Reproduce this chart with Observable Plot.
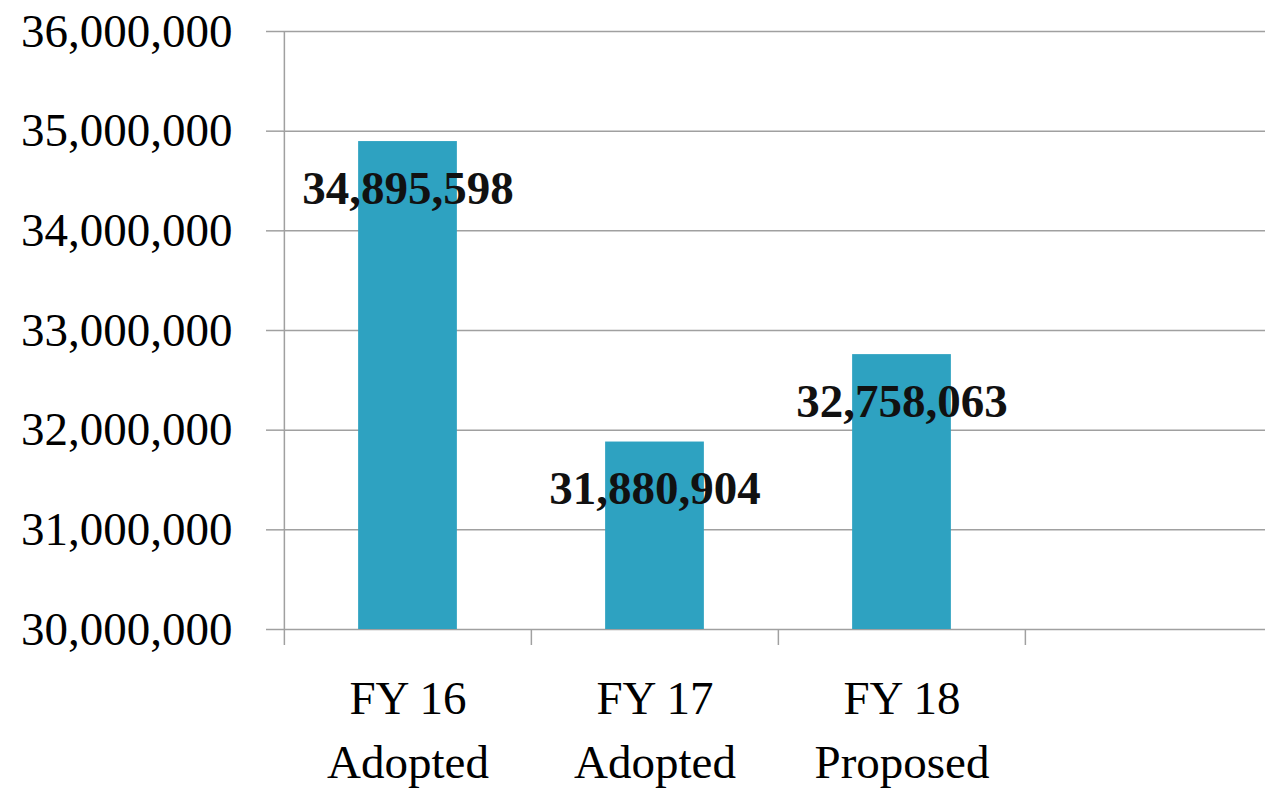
<!DOCTYPE html>
<html>
<head>
<meta charset="utf-8">
<script src="https://cdn.jsdelivr.net/npm/d3@7"></script>
<script src="https://cdn.jsdelivr.net/npm/@observablehq/plot@0.6"></script>
<style>
  html, body { margin: 0; padding: 0; background: #fff; overflow: hidden; }
  #chart svg { display: block; }
</style>
</head>
<body>
<div id="chart"></div>
<script>
const categories = ["FY 16\nAdopted", "FY 17\nAdopted", "FY 18\nProposed", " "];
const values = [34895598, 31880904, 32758063];
const yTicks = [30000000, 31000000, 32000000, 33000000, 34000000, 35000000, 36000000];

const data = values.map((v, i) => ({cat: categories[i], value: v}));

const W = 1265, H = 791;
const x0 = 283, x1 = 1272;
const step = (x1 - x0) / categories.length;
const barW = 99;
const inset = (step - barW) / 2;
const grid = "#a0a0a0";
const font = "'Liberation Serif', 'DejaVu Serif', serif";

const chart = Plot.plot({
  width: W,
  height: H,
  marginTop: 31,
  marginBottom: 162,
  marginLeft: x0,
  marginRight: 0,
  style: {fontFamily: font, fontSize: "47px", color: "#000", background: "#fff"},
  x: {domain: categories, range: [x0, x1], padding: 0},
  y: {domain: [30000000, 36000000]},
  marks: [
    Plot.gridY(yTicks, {stroke: grid, strokeOpacity: 1, strokeWidth: 1.5}),
    Plot.ruleX([categories[0]], {dx: -step / 2, stroke: grid, strokeWidth: 1.5}),
    Plot.axisY(yTicks, {
      tickSize: 17, tickPadding: 34, stroke: grid, strokeWidth: 1.5,
      tickFormat: d3.format(","), fontSize: 47, fill: "#000", label: null
    }),
    Plot.axisX({tickSize: 16, dx: -step / 2, text: null, stroke: grid, strokeWidth: 1.5, label: null}),
    Plot.axisX({tickSize: 0, tickPadding: 38, fontSize: 47, lineHeight: 1.38, fill: "#000", label: null}),
    Plot.barY(data, {x: "cat", y1: 30000000, y2: "value", fill: "#2ea2c1", insetLeft: inset, insetRight: inset}),
    Plot.text(data, {
      x: "cat", y: "value", text: d => d3.format(",")(d.value), dy: 47,
      fontSize: 47, fontWeight: "bold", fill: "#111", lineAnchor: "middle"
    })
  ]
});
document.getElementById("chart").appendChild(chart);
</script>
</body>
</html>
